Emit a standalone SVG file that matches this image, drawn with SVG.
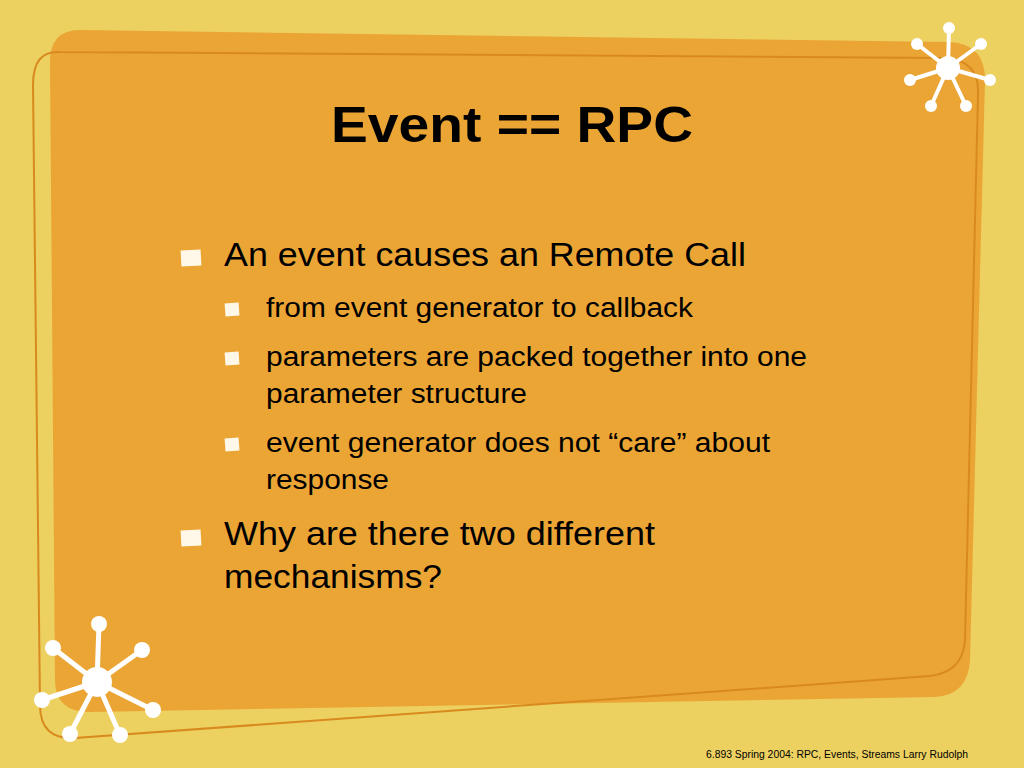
<svg xmlns="http://www.w3.org/2000/svg" width="1024" height="768" viewBox="0 0 1024 768">
<style>
.t{font-family:"Liberation Sans",Arial,sans-serif;fill:#000}
.b{fill:#fff8e8}
.sp{stroke:#fff;stroke-linecap:round;fill:none}
</style>
<rect width="1024" height="768" fill="#ecd060"/>
<path d="M80,30 L950,42 Q985,44 985,80 L970,660 Q968,695 935,697 L90,712 Q55,712 55,680 L50,62 Q50,30 80,30 Z" fill="#eba535"/>
<path d="M60,52 L945,58 Q980,60 978,95 L965,640 Q963,672 930,676 L75,738 Q40,740 40,705 L33,85 Q33,50 60,52 Z" fill="none" stroke="#d98a1f" stroke-width="2"/>
<g id="star1">
<g class="sp" stroke-width="4">
<path d="M948,68 L949,28 M948,68 L917,44 M948,68 L981,44 M948,68 L910,80 M948,68 L990,80 M948,68 L931,106 M948,68 L966,106"/>
</g>
<circle cx="948" cy="68" r="12" fill="#fff"/>
<g fill="#fff"><circle cx="949" cy="28" r="6"/><circle cx="917" cy="44" r="6"/><circle cx="981" cy="44" r="6"/><circle cx="910" cy="80" r="6"/><circle cx="990" cy="80" r="6"/><circle cx="931" cy="106" r="6"/><circle cx="966" cy="106" r="6"/></g>
</g>
<g id="star2">
<g class="sp" stroke-width="5">
<path d="M97,682 L99,624 M97,682 L53,648 M97,682 L142,650 M97,682 L42,700 M97,682 L153,710 M97,682 L70,734 M97,682 L120,735"/>
</g>
<circle cx="97" cy="682" r="15" fill="#fff"/>
<g fill="#fff"><circle cx="99" cy="624" r="8"/><circle cx="53" cy="648" r="8"/><circle cx="142" cy="650" r="8"/><circle cx="42" cy="700" r="8"/><circle cx="153" cy="710" r="8"/><circle cx="70" cy="734" r="8"/><circle cx="120" cy="735" r="8"/></g>
</g>
<text class="t" x="331" y="142" font-size="50" font-weight="bold" textLength="362" lengthAdjust="spacingAndGlyphs">Event == RPC</text>
<rect class="b" x="181" y="250" width="20" height="16" transform="rotate(-3 191 258)"/>
<text class="t" x="224" y="266" font-size="33" textLength="522" lengthAdjust="spacingAndGlyphs">An event causes an Remote Call</text>
<rect class="b" x="225" y="303" width="14" height="13" transform="rotate(-4 232 309)"/>
<text class="t" x="266" y="317" font-size="27" textLength="427" lengthAdjust="spacingAndGlyphs">from event generator to callback</text>
<rect class="b" x="225" y="352" width="14" height="13" transform="rotate(-4 232 358)"/>
<text class="t" x="266" y="366" font-size="27" textLength="541" lengthAdjust="spacingAndGlyphs">parameters are packed together into one</text>
<text class="t" x="266" y="403" font-size="27" textLength="261" lengthAdjust="spacingAndGlyphs">parameter structure</text>
<rect class="b" x="225" y="438" width="14" height="13" transform="rotate(-4 232 444)"/>
<text class="t" x="266" y="452" font-size="27" textLength="504" lengthAdjust="spacingAndGlyphs">event generator does not “care” about</text>
<text class="t" x="266" y="489" font-size="27" textLength="123" lengthAdjust="spacingAndGlyphs">response</text>
<rect class="b" x="181" y="530" width="20" height="16" transform="rotate(-3 191 538)"/>
<text class="t" x="224" y="545" font-size="33" textLength="431" lengthAdjust="spacingAndGlyphs">Why are there two different</text>
<text class="t" x="224" y="588" font-size="33" textLength="218" lengthAdjust="spacingAndGlyphs">mechanisms?</text>
<text class="t" x="706" y="758" font-size="10" textLength="262" lengthAdjust="spacingAndGlyphs">6.893 Spring 2004:  RPC, Events, Streams  Larry Rudolph</text>
</svg>
